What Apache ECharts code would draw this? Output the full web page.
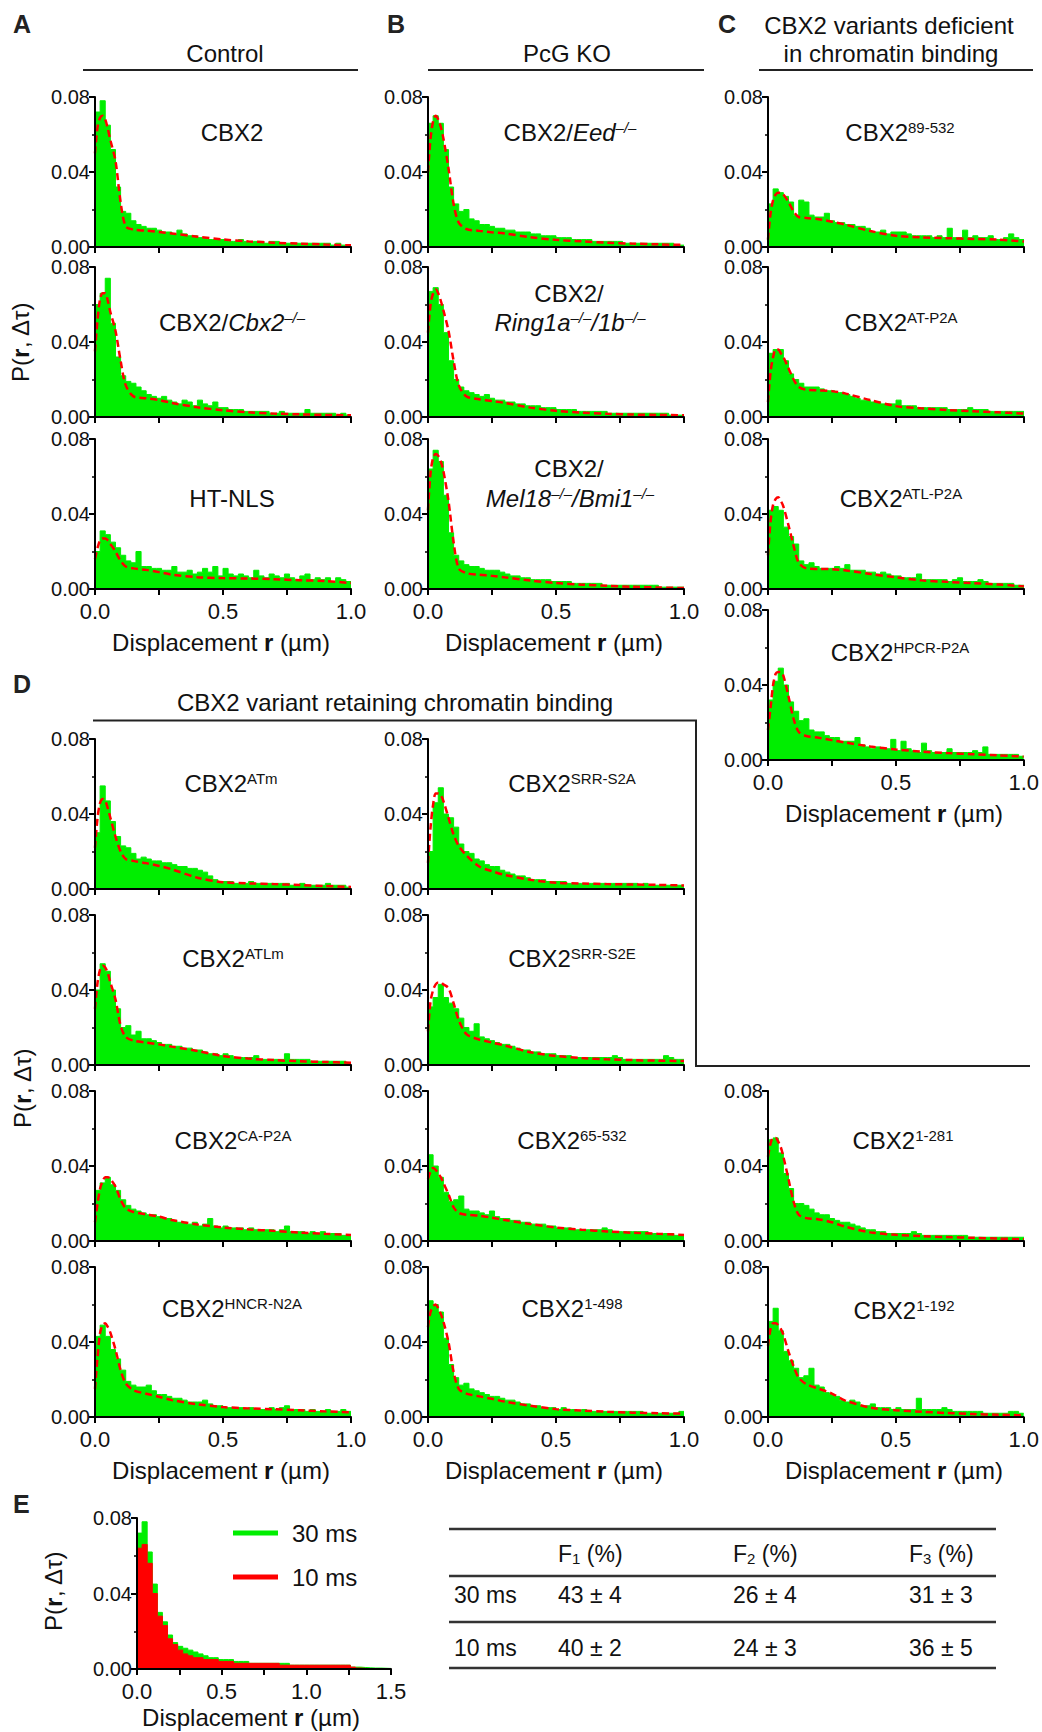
<!DOCTYPE html>
<html><head><meta charset="utf-8">
<script src="https://cdn.jsdelivr.net/npm/echarts@6/dist/echarts.min.js"></script>
<style>html,body{margin:0;padding:0;background:#fff}#c{width:1042px;height:1732px}</style>
</head><body><div id="c"></div>
<script>
// ---------- DATA (histogram bins of width 0.02 µm from 0 to 1.0; fits sampled at fitX) ----------
const fitX = [0, 0.01, 0.02, 0.03, 0.04, 0.05, 0.06, 0.08, 0.10, 0.12, 0.15, 0.20, 0.25, 0.30, 0.40, 0.50, 0.60, 0.70, 0.80, 0.90, 1.0];
const yTicks = [0, 0.04, 0.08];

// A: Control
const binsCBX2 = [0.072,0.078,0.065,0.052,0.032,0.019,0.018,0.014,0.012,0.011,
  0.010,0.010,0.009,0.008,0.008,0.007,0.009,0.007,0.006,0.006,
  0.005,0.005,0.004,0.004,0.004,0.004,0.003,0.003,0.004,0.003,
  0.003,0.003,0.003,0.002,0.003,0.003,0.002,0.002,0.002,0.002,
  0.002,0.002,0.002,0.002,0.002,0.002,0.001,0.002,0.001,0.001];
const fitCBX2 = [0.050,0.064,0.069,0.070,0.068,0.063,0.057,0.046,0.024,0.011,0.0093,0.0087,0.0080,0.0072,0.0055,0.0040,0.0030,0.0023,0.0018,0.0013,0.0009];

const binsCbx2KO = [0.060,0.066,0.074,0.050,0.032,0.022,0.019,0.018,0.016,0.014,
  0.012,0.011,0.010,0.011,0.009,0.008,0.007,0.009,0.008,0.006,
  0.009,0.007,0.006,0.008,0.005,0.005,0.004,0.004,0.004,0.003,
  0.003,0.003,0.003,0.003,0.002,0.002,0.003,0.002,0.002,0.002,
  0.002,0.004,0.002,0.002,0.002,0.002,0.002,0.001,0.002,0.001];
const fitCbx2KO = [0.035,0.052,0.063,0.066,0.066,0.062,0.056,0.046,0.030,0.017,0.011,0.0100,0.0090,0.0075,0.0052,0.0036,0.0025,0.0018,0.0014,0.0011,0.0009];

const binsHTNLS = [0.020,0.031,0.029,0.025,0.022,0.018,0.015,0.014,0.020,0.012,
  0.012,0.011,0.011,0.010,0.010,0.012,0.009,0.009,0.010,0.008,
  0.009,0.011,0.009,0.012,0.007,0.011,0.008,0.007,0.008,0.007,
  0.006,0.010,0.007,0.006,0.008,0.007,0.006,0.008,0.006,0.005,
  0.007,0.008,0.005,0.006,0.005,0.006,0.004,0.006,0.005,0.004];
const fitHTNLS = [0.016,0.022,0.026,0.027,0.027,0.026,0.024,0.020,0.015,0.012,0.011,0.0102,0.0090,0.0077,0.0063,0.0058,0.0056,0.0052,0.0047,0.0042,0.0032];

// B: PcG KO
const binsEed = [0.066,0.070,0.066,0.052,0.032,0.023,0.019,0.020,0.015,0.014,
  0.012,0.012,0.011,0.010,0.010,0.009,0.009,0.008,0.008,0.008,
  0.007,0.007,0.006,0.006,0.006,0.005,0.005,0.005,0.004,0.004,
  0.004,0.004,0.003,0.003,0.003,0.003,0.003,0.003,0.002,0.002,
  0.002,0.002,0.002,0.002,0.002,0.002,0.002,0.002,0.001,0.001];
const fitEed = [0.040,0.058,0.067,0.070,0.068,0.064,0.058,0.042,0.023,0.013,0.0096,0.0086,0.0078,0.0072,0.0052,0.0038,0.0030,0.0023,0.0018,0.0014,0.0011];

const binsRing1 = [0.067,0.069,0.060,0.045,0.030,0.020,0.016,0.014,0.013,0.012,
  0.011,0.012,0.010,0.009,0.009,0.008,0.008,0.007,0.007,0.006,
  0.006,0.006,0.005,0.005,0.005,0.004,0.004,0.004,0.004,0.003,
  0.003,0.003,0.003,0.003,0.003,0.002,0.002,0.002,0.002,0.002,
  0.002,0.002,0.002,0.002,0.002,0.002,0.002,0.001,0.001,0.001];
const fitRing1 = [0.045,0.060,0.066,0.068,0.066,0.062,0.057,0.046,0.030,0.017,0.011,0.0095,0.0085,0.0075,0.0050,0.0033,0.0023,0.0017,0.0013,0.0011,0.0009];

const binsMel18 = [0.064,0.074,0.068,0.050,0.030,0.018,0.015,0.013,0.012,0.012,
  0.011,0.010,0.010,0.010,0.009,0.008,0.007,0.007,0.006,0.006,
  0.005,0.005,0.005,0.005,0.004,0.004,0.004,0.004,0.003,0.003,
  0.003,0.003,0.003,0.003,0.002,0.002,0.002,0.002,0.002,0.002,
  0.002,0.002,0.002,0.002,0.002,0.001,0.001,0.001,0.001,0.001];
const fitMel18 = [0.042,0.062,0.070,0.072,0.071,0.068,0.063,0.047,0.025,0.011,0.0085,0.0076,0.0070,0.0062,0.0045,0.0032,0.0023,0.0017,0.0012,0.0008,0.0005];

// C: variants deficient in chromatin binding
const bins89 = [0.023,0.031,0.029,0.027,0.024,0.017,0.025,0.024,0.017,0.016,
  0.016,0.018,0.014,0.013,0.013,0.012,0.012,0.011,0.011,0.010,
  0.008,0.008,0.009,0.007,0.008,0.008,0.008,0.007,0.006,0.006,
  0.006,0.006,0.005,0.006,0.005,0.010,0.005,0.005,0.009,0.005,
  0.006,0.005,0.005,0.006,0.004,0.004,0.005,0.007,0.005,0.004];
const fit89 = [0.004,0.018,0.025,0.028,0.029,0.029,0.028,0.024,0.019,0.016,0.0155,0.0148,0.0135,0.0120,0.0085,0.0060,0.0051,0.0047,0.0043,0.0039,0.0029];

const binsAT = [0.034,0.036,0.036,0.030,0.023,0.020,0.018,0.016,0.016,0.016,
  0.015,0.014,0.014,0.013,0.013,0.012,0.011,0.010,0.009,0.009,
  0.008,0.008,0.007,0.007,0.007,0.009,0.006,0.006,0.006,0.005,
  0.005,0.005,0.005,0.005,0.005,0.004,0.004,0.004,0.004,0.005,
  0.004,0.004,0.004,0.003,0.003,0.003,0.003,0.003,0.003,0.003];
const fitAT = [0.008,0.024,0.032,0.036,0.036,0.034,0.032,0.026,0.020,0.016,0.0145,0.0142,0.0138,0.0126,0.0090,0.0058,0.0046,0.0037,0.0031,0.0025,0.0018];

const binsATL = [0.042,0.044,0.042,0.033,0.028,0.024,0.015,0.013,0.014,0.012,
  0.011,0.011,0.011,0.012,0.011,0.013,0.010,0.010,0.010,0.009,
  0.009,0.008,0.009,0.008,0.007,0.007,0.006,0.006,0.006,0.008,
  0.005,0.005,0.005,0.005,0.005,0.004,0.005,0.006,0.004,0.004,
  0.004,0.005,0.004,0.003,0.003,0.003,0.003,0.003,0.002,0.002];
const fitATL = [0.018,0.036,0.045,0.048,0.049,0.047,0.044,0.034,0.023,0.014,0.011,0.0107,0.0106,0.0100,0.0080,0.0062,0.0046,0.0038,0.0031,0.0024,0.0014];

const binsHPCR = [0.032,0.042,0.049,0.040,0.031,0.026,0.021,0.022,0.016,0.015,
  0.015,0.013,0.012,0.012,0.010,0.010,0.010,0.012,0.008,0.007,
  0.006,0.007,0.006,0.006,0.011,0.005,0.010,0.006,0.005,0.004,
  0.009,0.005,0.004,0.004,0.004,0.006,0.004,0.004,0.004,0.004,
  0.005,0.004,0.007,0.003,0.003,0.003,0.003,0.003,0.003,0.002];
const fitHPCR = [0.016,0.028,0.040,0.046,0.047,0.047,0.045,0.034,0.022,0.015,0.0128,0.0118,0.0106,0.0094,0.0072,0.0056,0.0045,0.0037,0.0031,0.0025,0.0018];

// D: variants retaining chromatin binding
const binsATm = [0.030,0.055,0.047,0.036,0.028,0.023,0.022,0.019,0.016,0.017,
  0.016,0.015,0.015,0.014,0.014,0.013,0.012,0.012,0.011,0.011,
  0.010,0.009,0.007,0.005,0.004,0.004,0.004,0.003,0.003,0.003,
  0.004,0.003,0.003,0.003,0.003,0.003,0.003,0.003,0.002,0.002,
  0.003,0.002,0.002,0.002,0.002,0.003,0.002,0.002,0.002,0.001];
const fitATm = [0.022,0.038,0.046,0.048,0.047,0.043,0.038,0.028,0.020,0.016,0.0150,0.0138,0.0123,0.0105,0.0060,0.0036,0.0030,0.0026,0.0021,0.0016,0.0011];

const binsS2A = [0.020,0.046,0.054,0.040,0.038,0.033,0.024,0.020,0.019,0.016,
  0.015,0.013,0.012,0.012,0.010,0.009,0.008,0.007,0.007,0.006,
  0.005,0.005,0.005,0.004,0.004,0.004,0.004,0.003,0.003,0.003,
  0.003,0.003,0.003,0.003,0.003,0.003,0.003,0.003,0.003,0.003,
  0.003,0.002,0.003,0.002,0.002,0.002,0.002,0.002,0.002,0.002];
const fitS2A = [0.014,0.033,0.045,0.051,0.051,0.050,0.047,0.038,0.029,0.023,0.018,0.0120,0.0095,0.0075,0.0049,0.0033,0.0029,0.0026,0.0024,0.0022,0.0019];

const binsATLm = [0.040,0.054,0.050,0.040,0.030,0.020,0.021,0.016,0.018,0.014,
  0.014,0.013,0.012,0.011,0.011,0.010,0.010,0.009,0.009,0.008,
  0.008,0.007,0.006,0.006,0.005,0.006,0.005,0.004,0.004,0.004,
  0.004,0.005,0.003,0.003,0.003,0.003,0.003,0.006,0.003,0.003,
  0.003,0.003,0.002,0.002,0.002,0.002,0.002,0.002,0.002,0.001];
const fitATLm = [0.030,0.044,0.051,0.053,0.052,0.049,0.044,0.035,0.021,0.0150,0.0130,0.0120,0.0110,0.0098,0.0075,0.0048,0.0034,0.0026,0.0020,0.0016,0.0012];

const binsS2E = [0.031,0.036,0.043,0.036,0.033,0.030,0.025,0.020,0.018,0.022,
  0.015,0.014,0.013,0.012,0.011,0.011,0.010,0.009,0.008,0.008,
  0.007,0.007,0.006,0.006,0.006,0.005,0.005,0.005,0.004,0.004,
  0.004,0.004,0.004,0.004,0.004,0.004,0.005,0.004,0.003,0.003,
  0.003,0.003,0.003,0.003,0.003,0.003,0.005,0.004,0.003,0.003];
const fitS2E = [0.018,0.034,0.040,0.043,0.044,0.044,0.043,0.041,0.033,0.024,0.0165,0.0136,0.0120,0.0104,0.0068,0.0048,0.0037,0.0030,0.0026,0.0023,0.0021];

const binsCA = [0.027,0.031,0.034,0.030,0.027,0.022,0.019,0.017,0.016,0.015,
  0.014,0.014,0.013,0.012,0.012,0.011,0.010,0.010,0.009,0.010,
  0.008,0.009,0.012,0.008,0.007,0.008,0.007,0.007,0.007,0.006,
  0.007,0.006,0.006,0.006,0.006,0.005,0.006,0.008,0.005,0.005,
  0.005,0.004,0.005,0.004,0.005,0.004,0.004,0.004,0.003,0.003];
const fitCA = [0.010,0.020,0.028,0.032,0.034,0.034,0.033,0.029,0.022,0.0175,0.0155,0.0142,0.0130,0.0112,0.0088,0.0072,0.0062,0.0054,0.0045,0.0038,0.0032];

const bins65 = [0.046,0.040,0.034,0.026,0.021,0.022,0.024,0.017,0.016,0.016,
  0.015,0.014,0.016,0.013,0.012,0.012,0.011,0.011,0.010,0.010,
  0.009,0.009,0.009,0.008,0.008,0.007,0.007,0.007,0.006,0.006,
  0.006,0.006,0.006,0.006,0.007,0.006,0.005,0.005,0.005,0.005,
  0.005,0.005,0.005,0.004,0.004,0.004,0.004,0.004,0.003,0.003];
const fit65 = [0.033,0.037,0.039,0.038,0.036,0.034,0.031,0.025,0.018,0.0150,0.0140,0.0135,0.0124,0.0112,0.0090,0.0072,0.0060,0.0051,0.0044,0.0038,0.0032];

const bins281 = [0.054,0.055,0.047,0.036,0.028,0.020,0.020,0.019,0.017,0.015,
  0.014,0.014,0.012,0.011,0.010,0.010,0.009,0.008,0.007,0.006,
  0.006,0.005,0.005,0.004,0.004,0.004,0.004,0.004,0.005,0.004,
  0.003,0.003,0.003,0.003,0.003,0.003,0.003,0.003,0.003,0.002,
  0.002,0.002,0.002,0.002,0.002,0.002,0.002,0.002,0.002,0.002];
const fit281 = [0.045,0.052,0.055,0.055,0.053,0.050,0.045,0.033,0.021,0.014,0.0122,0.0115,0.0100,0.0077,0.0046,0.0033,0.0026,0.0021,0.0017,0.0013,0.0009];

const binsHNCR = [0.043,0.049,0.043,0.036,0.031,0.025,0.019,0.017,0.016,0.016,
  0.017,0.014,0.012,0.012,0.011,0.010,0.010,0.009,0.008,0.008,
  0.008,0.009,0.007,0.006,0.006,0.005,0.005,0.005,0.005,0.004,
  0.005,0.004,0.004,0.004,0.005,0.004,0.005,0.006,0.004,0.004,
  0.004,0.003,0.004,0.003,0.003,0.004,0.003,0.003,0.004,0.003];
const fitHNCR = [0.015,0.032,0.045,0.049,0.050,0.048,0.045,0.036,0.025,0.018,0.0143,0.0124,0.0108,0.0090,0.0068,0.0053,0.0046,0.0041,0.0036,0.0030,0.0025];

const bins498 = [0.062,0.060,0.056,0.042,0.028,0.021,0.017,0.018,0.015,0.014,
  0.013,0.012,0.011,0.011,0.010,0.009,0.009,0.008,0.007,0.007,
  0.006,0.006,0.005,0.005,0.005,0.004,0.005,0.004,0.004,0.003,
  0.004,0.003,0.003,0.003,0.003,0.003,0.003,0.003,0.003,0.003,
  0.003,0.003,0.002,0.002,0.002,0.002,0.002,0.002,0.002,0.003];
const fit498 = [0.048,0.056,0.059,0.060,0.058,0.055,0.051,0.040,0.024,0.015,0.0125,0.0110,0.0097,0.0082,0.0060,0.0042,0.0034,0.0028,0.0023,0.0020,0.0018];

const bins192 = [0.051,0.058,0.046,0.035,0.030,0.026,0.021,0.022,0.026,0.017,
  0.016,0.013,0.012,0.011,0.009,0.008,0.009,0.008,0.006,0.006,
  0.007,0.005,0.005,0.005,0.004,0.005,0.004,0.004,0.004,0.010,
  0.004,0.004,0.004,0.004,0.005,0.004,0.003,0.003,0.003,0.003,
  0.003,0.003,0.002,0.002,0.002,0.002,0.002,0.003,0.003,0.002];
const fit192 = [0.038,0.047,0.050,0.050,0.049,0.047,0.044,0.035,0.027,0.021,0.0175,0.0150,0.0125,0.0089,0.0050,0.0036,0.0028,0.0021,0.0016,0.0012,0.0009];

// E: 30 ms vs 10 ms (bins of width 0.03 µm from 0 to 1.5)
const bins30ms = [0.072,0.078,0.062,0.045,0.030,0.025,0.018,0.014,0.012,0.011,
  0.010,0.009,0.008,0.007,0.006,0.006,0.005,0.005,0.005,0.004,
  0.004,0.004,0.003,0.003,0.003,0.003,0.003,0.003,0.003,0.003,
  0.002,0.002,0.002,0.002,0.002,0.002,0.002,0.002,0.002,0.002,
  0.002,0.002,0.001,0.001,0.0008,0.0006,0.0005,0.0005,0.0004,0.0003];
const bins10ms = [0.064,0.066,0.056,0.040,0.028,0.023,0.016,0.013,0.010,0.008,
  0.007,0.006,0.006,0.005,0.005,0.005,0.004,0.004,0.004,0.003,
  0.003,0.003,0.003,0.003,0.003,0.003,0.003,0.003,0.002,0.002,
  0.002,0.002,0.002,0.002,0.002,0.002,0.002,0.002,0.002,0.002,
  0.002,0.002,0.001,0.0005,0.0003,0.0002,0.0002,0.0002,0.0001,0.0001];

// Table
const tableCols = ['F1', 'F2', 'F3'];
const tableRows = ['30 ms', '10 ms'];
const tableVals = [['43 ± 4', '26 ± 4', '31 ± 3'], ['40 ± 2', '24 ± 3', '36 ± 5']];

// ---------- LAYOUT ----------
const FONT = '"Liberation Sans", Arial, Helvetica, sans-serif';
const INK = '#111';
const GREEN = '#00ee00';
const RED = '#ff0000';
const BIN = 0.02, EBIN = 0.03;

const RICH = {
  n: {fontSize: 24, fontFamily: FONT, fill: INK},
  i: {fontSize: 24, fontFamily: FONT, fill: INK, fontStyle: 'italic'},
  sup: {fontSize: 15, fontFamily: FONT, fill: INK, verticalAlign: 'top'},
  isup: {fontSize: 15, fontFamily: FONT, fill: INK, fontStyle: 'italic', verticalAlign: 'top'},
  b: {fontSize: 24, fontFamily: FONT, fill: INK, fontWeight: 'bold'},
  tn: {fontSize: 23, fontFamily: FONT, fill: INK},
  tsub: {fontSize: 15, fontFamily: FONT, fill: INK, verticalAlign: 'bottom'}
};

const panels = [
  {b: binsCBX2, f: fitCBX2, x: 95, y: 97, lab: [[232, 132, '{n|CBX2}']]},
  {b: binsCbx2KO, f: fitCbx2KO, x: 95, y: 267, lab: [[232, 322, '{n|CBX2/}{i|Cbx2}{isup|–/–}']]},
  {b: binsHTNLS, f: fitHTNLS, x: 95, y: 439, xl: true, lab: [[232, 498, '{n|HT-NLS}']]},
  {b: binsEed, f: fitEed, x: 428, y: 97, lab: [[570, 132, '{n|CBX2/}{i|Eed}{isup|–/–}']]},
  {b: binsRing1, f: fitRing1, x: 428, y: 267, lab: [[569, 293, '{n|CBX2/}'], [570, 322, '{i|Ring1a}{isup|–/–}{i|/1b}{isup|–/–}']]},
  {b: binsMel18, f: fitMel18, x: 428, y: 439, xl: true, lab: [[569, 468, '{n|CBX2/}'], [570, 498, '{i|Mel18}{isup|–/–}{i|/Bmi1}{isup|–/–}']]},
  {b: bins89, f: fit89, x: 768, y: 97, lab: [[900, 132, '{n|CBX2}{sup|89-532}']]},
  {b: binsAT, f: fitAT, x: 768, y: 267, lab: [[901, 322, '{n|CBX2}{sup|AT-P2A}']]},
  {b: binsATL, f: fitATL, x: 768, y: 439, lab: [[901, 498, '{n|CBX2}{sup|ATL-P2A}']]},
  {b: binsHPCR, f: fitHPCR, x: 768, y: 610, xl: true, lab: [[900, 652, '{n|CBX2}{sup|HPCR-P2A}']]},
  {b: binsATm, f: fitATm, x: 95, y: 739, lab: [[231, 783, '{n|CBX2}{sup|ATm}']]},
  {b: binsS2A, f: fitS2A, x: 428, y: 739, lab: [[572, 783, '{n|CBX2}{sup|SRR-S2A}']]},
  {b: binsATLm, f: fitATLm, x: 95, y: 915, lab: [[233, 958, '{n|CBX2}{sup|ATLm}']]},
  {b: binsS2E, f: fitS2E, x: 428, y: 915, lab: [[572, 958, '{n|CBX2}{sup|SRR-S2E}']]},
  {b: binsCA, f: fitCA, x: 95, y: 1091, lab: [[233, 1140, '{n|CBX2}{sup|CA-P2A}']]},
  {b: bins65, f: fit65, x: 428, y: 1091, lab: [[572, 1140, '{n|CBX2}{sup|65-532}']]},
  {b: bins281, f: fit281, x: 768, y: 1091, lab: [[903, 1140, '{n|CBX2}{sup|1-281}']]},
  {b: binsHNCR, f: fitHNCR, x: 95, y: 1267, xl: true, lab: [[232, 1308, '{n|CBX2}{sup|HNCR-N2A}']]},
  {b: bins498, f: fit498, x: 428, y: 1267, xl: true, lab: [[572, 1308, '{n|CBX2}{sup|1-498}']]},
  {b: bins192, f: fit192, x: 768, y: 1267, xl: true, lab: [[904, 1310, '{n|CBX2}{sup|1-192}']]}
];

function stepData(bins, w, xmax) {
  const d = bins.map((v, i) => [Math.round(i * w * 10000) / 10000, v]);
  d.push([xmax, bins[bins.length - 1]]);
  return d;
}

const grid = [], xAxis = [], yAxis = [], series = [], graphic = [];

function axes(idx, showXLabels, xmax) {
  xAxis.push({
    gridIndex: idx, type: 'value', min: 0, max: xmax, interval: 0.25, z: 5,
    axisLine: {show: true, lineStyle: {color: '#000', width: 2}},
    axisTick: {show: true, length: 6, lineStyle: {color: '#000', width: 2}},
    axisLabel: {show: showXLabels, margin: 11, fontSize: 22, color: INK, fontFamily: FONT,
      formatter: v => (Math.abs(v * 2 - Math.round(v * 2)) < 1e-6 ? v.toFixed(1) : '')},
    splitLine: {show: false}
  });
  yAxis.push({
    gridIndex: idx, type: 'value', min: yTicks[0], max: yTicks[yTicks.length - 1], interval: yTicks[1] - yTicks[0], z: 5,
    axisLine: {show: true, lineStyle: {color: '#000', width: 2}},
    axisTick: {show: true, length: 6, lineStyle: {color: '#000', width: 2}},
    minorTick: {show: true, splitNumber: 2, length: 3, lineStyle: {color: '#000', width: 1.5}},
    axisLabel: {show: true, margin: 5, fontSize: 20, lineHeight: 20, color: INK, fontFamily: FONT, formatter: v => v.toFixed(2)},
    splitLine: {show: false}, minorSplitLine: {show: false}
  });
}

panels.forEach((p, idx) => {
  grid.push({left: p.x, top: p.y, width: 256, height: 150});
  axes(idx, !!p.xl, 1);
  series.push({
    type: 'line', xAxisIndex: idx, yAxisIndex: idx, data: stepData(p.b, BIN, 1.0), step: 'end',
    symbol: 'none', silent: true, z: 2,
    lineStyle: {color: GREEN, width: 1}, areaStyle: {color: GREEN, opacity: 1}, itemStyle: {color: GREEN}
  });
  series.push({
    type: 'line', xAxisIndex: idx, yAxisIndex: idx, data: fitX.map((x, i) => [x, p.f[i]]),
    smooth: 0.3, symbol: 'none', silent: true, z: 3,
    lineStyle: {color: RED, width: 2.5, type: [7, 4]}, itemStyle: {color: RED}
  });
  p.lab.forEach(l => graphic.push({type: 'text', x: l[0], y: l[1], silent: true,
    style: {text: l[2], rich: RICH, align: 'center', verticalAlign: 'middle', fontSize: 24, fontFamily: FONT, fill: INK}}));
  if (p.xl) {
    graphic.push({type: 'text', x: p.x + 126, y: p.y + 203, silent: true,
      style: {text: '{n|Displacement }{b|r}{n| (µm)}', rich: RICH, align: 'center', verticalAlign: 'middle', fontSize: 24, fontFamily: FONT, fill: INK}});
  }
});

// Panel E
const eIdx = panels.length;
grid.push({left: 137, top: 1518, width: 254, height: 151});
axes(eIdx, true, 1.5);
series.push({
  name: '30 ms', type: 'line', xAxisIndex: eIdx, yAxisIndex: eIdx, data: stepData(bins30ms, EBIN, 1.5), step: 'end',
  symbol: 'none', silent: true, z: 2, color: GREEN,
  lineStyle: {color: GREEN, width: 1}, areaStyle: {color: GREEN, opacity: 1}, itemStyle: {color: GREEN}
});
series.push({
  name: '10 ms', type: 'line', xAxisIndex: eIdx, yAxisIndex: eIdx, data: stepData(bins10ms, EBIN, 1.5), step: 'end',
  symbol: 'none', silent: true, z: 3, color: RED,
  lineStyle: {color: RED, width: 1}, areaStyle: {color: RED, opacity: 1}, itemStyle: {color: RED}
});
graphic.push({type: 'text', x: 251, y: 1717, silent: true,
  style: {text: '{n|Displacement }{b|r}{n| (µm)}', rich: RICH, align: 'center', verticalAlign: 'middle', fontSize: 24, fontFamily: FONT, fill: INK}});

// y-axis titles
[[20, 342], [22, 1088], [53, 1591]].forEach(pt => graphic.push({type: 'text', x: pt[0], y: pt[1], rotation: Math.PI / 2, silent: true,
  style: {text: '{n|P(}{b|r}{n|, Δτ)}', rich: RICH, align: 'center', verticalAlign: 'middle', fontSize: 24, fontFamily: FONT, fill: INK}}));

// panel letters
[['A', 13, 24], ['B', 387, 24], ['C', 718, 24], ['D', 13, 684], ['E', 13, 1504]].forEach(l => graphic.push({type: 'text', x: l[1], y: l[2], silent: true,
  style: {text: l[0], fontSize: 25, fontWeight: 'bold', fontFamily: FONT, fill: '#222', align: 'left', verticalAlign: 'middle'}}));

// headers
function hline(x1, y1, x2, y2, w, c) { graphic.push({type: 'line', silent: true, shape: {x1, y1, x2, y2}, style: {stroke: c || '#222', lineWidth: w || 2}}); }
function txt(x, y, t, align) { graphic.push({type: 'text', x, y, silent: true, style: {text: t, rich: RICH, align: align || 'center', verticalAlign: 'middle', fontSize: 24, fontFamily: FONT, fill: INK}}); }
txt(225, 53, '{n|Control}'); hline(83, 70, 358, 70);
txt(567, 53, '{n|PcG KO}'); hline(428, 70, 704, 70);
txt(889, 25, '{n|CBX2 variants deficient}'); txt(891, 53, '{n|in chromatin binding}'); hline(759, 70, 1033, 70);
txt(395, 702, '{n|CBX2 variant retaining chromatin binding}');
graphic.push({type: 'polyline', silent: true, shape: {points: [[93, 720.5], [696, 720.5], [696, 1066], [1030, 1066]]}, style: {stroke: '#222', lineWidth: 2, fill: null}});

// table
[1529, 1576, 1622, 1668].forEach(y => hline(449, y, 996, y, 2.5, '#333'));
const colX = [558, 733, 909];
tableCols.forEach((c, j) => graphic.push({type: 'text', x: colX[j], y: 1554, silent: true,
  style: {text: '{tn|' + c[0] + '}{tsub|' + c.slice(1) + '}{tn| (%)}', rich: RICH, align: 'left', verticalAlign: 'middle', fontSize: 23, fontFamily: FONT, fill: INK}}));
const rowY = [1595, 1648];
tableRows.forEach((r, i) => {
  graphic.push({type: 'text', x: 454, y: rowY[i], silent: true, style: {text: r, fontSize: 23, fontFamily: FONT, fill: INK, align: 'left', verticalAlign: 'middle'}});
  tableVals[i].forEach((v, j) => graphic.push({type: 'text', x: colX[j], y: rowY[i], silent: true,
    style: {text: v, fontSize: 23, fontFamily: FONT, fill: INK, align: 'left', verticalAlign: 'middle'}}));
});

const chart = echarts.init(document.getElementById('c'), null, {renderer: 'svg'});
chart.setOption({
  backgroundColor: '#fff',
  animation: false,
  textStyle: {fontFamily: FONT},
  legend: {
    left: 228, top: 1515, orient: 'vertical', itemWidth: 45, itemHeight: 5, itemGap: 18, icon: 'rect',
    selectedMode: false, data: ['30 ms', '10 ms'],
    textStyle: {fontSize: 24, fontFamily: FONT, color: INK, lineHeight: 26, padding: [0, 0, 0, 9]}
  },
  grid, xAxis, yAxis, series, graphic
});
</script></body></html>
